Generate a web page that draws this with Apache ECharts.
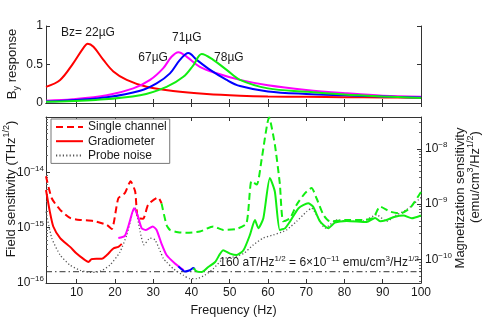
<!DOCTYPE html>
<html><head><meta charset="utf-8">
<script src="https://cdn.jsdelivr.net/npm/echarts@6/dist/echarts.min.js"></script>
<style>html,body{margin:0;padding:0;background:#fff}#c{width:485px;height:317px}</style>
</head><body><div id="c"></div>
<script>
// ---------- data ----------
const xTicks = [10, 20, 30, 40, 50, 60, 70, 80, 90, 100];
const responseTicks = [0, 0.5, 1];
const freqMin = 2, freqMax = 100;
const fieldMin = 1e-16, fieldMax = 1e-13;
const floorLevel = 1.6e-16;          // 160 aT/Hz^1/2
const fieldToMag = 6e-11 / 1.6e-16;  // emu/cm^3 per T

// top panel: By response vs frequency for four Bz values
const resp22 = [[2,0.21],[5.7,0.30],[9.1,0.515],[11.7,0.71],[12.9,0.77],[14.4,0.73],[17,0.56],[19.6,0.41],[23.1,0.30],[28.3,0.21],[35.2,0.156],[44,0.117],[52.7,0.095],[60,0.085],[70,0.08],[80,0.075],[90,0.072],[100,0.068]];
const resp67 = [[2,0.03],[9,0.048],[17.9,0.10],[24.8,0.19],[29.2,0.30],[32.6,0.45],[34.8,0.60],[36.6,0.66],[38.8,0.60],[42.2,0.47],[46.6,0.386],[52.7,0.30],[60,0.23],[70,0.17],[80.6,0.126],[90,0.095],[100,0.082]];
const resp71 = [[2,0.02],[10,0.04],[17.9,0.074],[26.6,0.16],[30.9,0.255],[34.4,0.385],[37,0.56],[39.2,0.65],[41.4,0.56],[44.9,0.43],[49.2,0.30],[52.7,0.22],[60,0.15],[70,0.117],[80,0.1],[90,0.085],[100,0.07]];
const resp78 = [[2,0.015],[15,0.04],[26.6,0.10],[33.5,0.21],[37.9,0.34],[40.5,0.49],[42.7,0.636],[45.7,0.56],[49.2,0.43],[52.7,0.30],[60,0.19],[70,0.147],[80,0.11],[90,0.085],[100,0.065]];

// bottom panel: field sensitivity (T/Hz^1/2)
const singleRed = [[2,8.5e-15],[3.5,3.4e-15],[5.7,2.1e-15],[8.3,1.5e-15],[10.9,1.38e-15],[14.4,1.32e-15],[17.9,1.12e-15],[19.2,9.5e-16],[20.9,3.4e-15],[22.6,4.2e-15],[24.1,6.9e-15],[25.3,4.5e-15],[26.0,1.48e-15],[27.4,1.45e-15],[28.7,2.6e-15],[31.3,3.5e-15],[32.2,2.75e-15]];
const singleGreen = [[32.2,2.75e-15],[33.5,1.12e-15],[34.4,9.1e-16],[36.5,8.3e-16],[38.8,8.1e-16],[42.2,8.5e-16],[45.7,1.05e-15],[48.3,9.1e-16],[51.8,9.5e-16],[54.4,1.2e-15],[55.7,6.9e-15],[57.1,6.0e-15],[58.4,1.8e-14],[60.3,9.8e-14],[61.8,3.2e-14],[63.1,6.3e-15],[64.0,1.3e-15],[65.8,1.48e-15],[67.5,2.6e-15],[69.7,4.2e-15],[71.4,5.2e-15],[72.7,3.4e-15],[74.5,1.7e-15],[76.2,1.3e-15],[80.6,1.38e-15],[84.9,1.38e-15],[87.5,1.5e-15],[89.3,2.4e-15],[91.9,1.95e-15],[94.5,1.8e-15],[97.1,2.25e-15],[100,4.4e-15]];
const gradRed = [[2,4.8e-15],[3,1.95e-15],[3.9,1.05e-15],[5.7,6.5e-16],[8.3,4.5e-16],[10,3.4e-16],[11.7,2.75e-16],[13.1,2.4e-16],[13.9,2.7e-16],[15.2,2.75e-16],[16.6,2.75e-16],[17.9,3.2e-16],[19.6,4.2e-16],[20.9,4.5e-16],[21.8,5.1e-16]];
const gradMagenta = [[20.9,6.5e-16],[22.6,7.1e-16],[23.9,1.3e-15],[25.0,2.25e-15],[25.9,1.7e-15],[27.0,9.8e-16],[28.1,9.1e-16],[29.9,1.05e-15],[30.9,9.1e-16],[32.2,5.1e-16],[33.5,3.2e-16],[35.7,2.25e-16],[37.5,1.8e-16],[38.0,1.7e-16]];
const gradBlue = [[36.6,2.0e-16],[38.3,1.62e-16],[39.6,1.7e-16],[40.5,1.86e-16],[40.9,1.78e-16]];
const gradGreen = [[40.5,1.86e-16],[41.4,1.62e-16],[42.7,1.58e-16],[44.4,1.95e-16],[46.2,2.4e-16],[48.3,3.9e-16],[50.1,3.4e-16],[51.8,3.2e-16],[53.6,3.9e-16],[55.3,7.4e-16],[56.6,1.38e-15],[57.5,9.8e-16],[58.8,1.48e-15],[60.5,7.9e-15],[61.8,4.5e-15],[63.1,9.1e-16],[64.5,9.8e-16],[65.8,1.3e-15],[68.0,2.25e-15],[70.5,2.75e-15],[71.8,2.4e-15],[73.6,1.3e-15],[75.8,9.8e-16],[77.5,1.23e-15],[80.6,1.32e-15],[85.8,1.26e-15],[88.0,1.5e-15],[89.3,1.3e-15],[91.0,1.38e-15],[93.2,1.58e-15],[95.4,1.66e-15],[97.6,1.48e-15],[100,1.66e-15]];
const probeNoise = [[2,1.95e-15],[3.5,6.5e-16],[5.7,3.2e-16],[8.3,2.1e-16],[10.9,1.7e-16],[13.5,1.55e-16],[16.1,1.62e-16],[18.7,2.1e-16],[21.3,3.6e-16],[23.1,7.4e-16],[24.7,1.95e-15],[25.3,2.25e-15],[26.6,8.5e-16],[27.6,4.9e-16],[29.2,6.5e-16],[30.5,6.0e-16],[32.7,2.75e-16],[33.5,2.4e-16],[35.3,1.8e-16],[37.9,1.38e-16],[39.6,1.2e-16],[41.4,1.2e-16],[43.5,1.38e-16],[45.7,1.8e-16],[48.3,2.75e-16],[51.0,2.95e-16],[53.6,3.4e-16],[56.2,4.9e-16],[58.8,6.5e-16],[61.4,7.4e-16],[64.0,8.5e-16],[64.9,9.1e-16],[67.5,1.3e-15],[70.1,1.95e-15],[71.4,2.25e-15],[73.2,1.48e-15],[74.9,9.8e-16],[78.0,1.38e-15],[81.4,1.3e-15],[84.9,1.32e-15],[88.4,1.7e-15],[91.0,1.3e-15],[93.6,1.7e-15],[96.2,2.1e-15],[100,3.5e-15]];
const floorLine = [[freqMin, floorLevel], [freqMax, floorLevel]];

// ---------- styling ----------
const FONT = 'Liberation Sans';
const TXT = '#1a1a1a';
const AX = '#333';
const RED = '#ff0000', MAG = '#ff00ff', BLUE = '#0000ff', GREEN = '#11ee11', GRAY = '#555';
const supStyle = {fontSize: 8, lineHeight: 8, verticalAlign: 'top', fontFamily: FONT, color: TXT};

function minorExps(lo, hi) {
  const out = [];
  for (let n = Math.floor(lo) - 1; n <= Math.ceil(hi); n++) {
    for (let k = 2; k <= 9; k++) {
      const e = n + Math.log10(k);
      if (e > lo && e < hi) out.push(e);
    }
  }
  return out;
}
const magMin = fieldMin * fieldToMag, magMax = fieldMax * fieldToMag;

function powLabel(v) {
  const e = Math.log10(v);
  const r = Math.round(e);
  if (Math.abs(e - r) > 0.01) return '';
  return '10{s|\u2212' + Math.abs(r) + '}';
}

const lineAxis = {show: true, lineStyle: {color: AX, width: 1}};
function frameAxis(extra) {
  return Object.assign({
    axisLine: lineAxis,
    axisTick: {show: true, inside: true, length: 4, lineStyle: {color: AX}},
    axisLabel: {show: false},
    splitLine: {show: false}
  }, extra);
}

const topLine = (name, data, color, label, coord) => ({
  name, type: 'line', xAxisIndex: 0, yAxisIndex: 0, data, symbol: 'none', smooth: 0.35,
  lineStyle: {color, width: 2}, itemStyle: {color}, silent: true,
  markPoint: {
    symbol: 'circle', symbolSize: 0, silent: true,
    label: {show: true, position: 'inside', formatter: label, fontFamily: FONT, fontSize: 12, color: TXT},
    data: [{coord}]
  }
});

const botLine = (name, data, color, type, width) => ({
  name, type: 'line', xAxisIndex: 2, yAxisIndex: 2, data, symbol: 'none', smooth: 0.2,
  lineStyle: {color, width, type}, itemStyle: {color}, silent: true
});

const option = {
  animation: false,
  backgroundColor: '#fff',
  textStyle: {fontFamily: FONT},
  grid: [
    {left: 46, right: 64, top: 26, height: 77, outerBoundsMode: 'none', containLabel: false},
    {left: 46, right: 64, top: 117, height: 166, outerBoundsMode: 'none', containLabel: false}
  ],
  xAxis: [
    frameAxis({gridIndex: 0, type: 'value', min: freqMin, max: freqMax, position: 'bottom',
      axisTick: {show: true, inside: true, length: 4, customValues: xTicks, lineStyle: {color: AX}}}),
    frameAxis({gridIndex: 0, type: 'value', min: freqMin, max: freqMax, position: 'top',
      axisTick: {show: true, inside: true, length: 4, customValues: xTicks, lineStyle: {color: AX}}}),
    frameAxis({gridIndex: 1, type: 'value', min: freqMin, max: freqMax, position: 'bottom',
      axisTick: {show: true, inside: true, length: 4, customValues: xTicks, lineStyle: {color: AX}},
      axisLabel: {show: true, customValues: xTicks, margin: 4, fontSize: 12, fontFamily: FONT, color: TXT},
      name: 'Frequency (Hz)', nameLocation: 'middle', nameGap: 20,
      nameTextStyle: {fontSize: 12.5, fontFamily: FONT, color: TXT}}),
    frameAxis({gridIndex: 1, type: 'value', min: freqMin, max: freqMax, position: 'top',
      axisTick: {show: true, inside: true, length: 4, customValues: xTicks, lineStyle: {color: AX}}})
  ],
  yAxis: [
    frameAxis({gridIndex: 0, type: 'value', min: 0, max: 1, interval: 0.5, position: 'left',
      axisTick: {show: true, inside: true, length: 4, customValues: responseTicks, lineStyle: {color: AX}},
      axisLabel: {show: true, customValues: responseTicks, margin: 3, fontSize: 12, fontFamily: FONT, color: TXT}}),
    frameAxis({gridIndex: 0, type: 'value', min: 0, max: 1, interval: 0.5, position: 'right',
      axisTick: {show: true, inside: true, length: 4, customValues: responseTicks, lineStyle: {color: AX}}}),
    frameAxis({gridIndex: 1, type: 'log', logBase: 10, min: fieldMin, max: fieldMax, position: 'left',
      axisLabel: {show: true, margin: 2, fontSize: 12, lineHeight: 16, fontFamily: FONT, color: TXT,
        formatter: v => (Math.round(Math.log10(v)) === -13 ? '' : powLabel(v)), rich: {s: supStyle}}}),
    {gridIndex: 1, type: 'value', min: Math.log10(fieldMin), max: Math.log10(fieldMax), position: 'left',
      axisLine: {show: false}, axisLabel: {show: false}, splitLine: {show: false},
      axisTick: {show: true, inside: true, length: 2, customValues: minorExps(Math.log10(fieldMin), Math.log10(fieldMax)), lineStyle: {color: '#666'}}},
    frameAxis({gridIndex: 1, type: 'log', logBase: 10, min: magMin, max: magMax, position: 'right',
      axisLabel: {show: true, margin: 4, fontSize: 12, lineHeight: 16, fontFamily: FONT, color: TXT,
        formatter: powLabel, rich: {s: supStyle}}}),
    {gridIndex: 1, type: 'value', min: Math.log10(magMin), max: Math.log10(magMax), position: 'right',
      axisLine: {show: false}, axisLabel: {show: false}, splitLine: {show: false},
      axisTick: {show: true, inside: true, length: 2, customValues: minorExps(Math.log10(magMin), Math.log10(magMax)), lineStyle: {color: '#666'}}}
  ],
  legend: {
    data: ['Single channel', 'Gradiometer', 'Probe noise'],
    orient: 'vertical', left: 51, top: 119,
    itemWidth: 27, itemHeight: 12, itemGap: 2.2,
    padding: [2, 3, 2, 4],
    borderColor: '#777', borderWidth: 1, backgroundColor: '#fff',
    itemStyle: {opacity: 0, borderWidth: 0},
    textStyle: {fontFamily: FONT, fontSize: 12, color: TXT},
    selectedMode: false
  },
  series: [
    topLine('Bz 22', resp22, RED, 'Bz= 22\u00b5G', [12.97, 0.909]),
    topLine('Bz 67', resp67, MAG, '67\u00b5G', [30.0, 0.584]),
    topLine('Bz 71', resp71, BLUE, '71\u00b5G', [38.8, 0.844]),
    topLine('Bz 78', resp78, GREEN, '78\u00b5G', [49.8, 0.584]),
    Object.assign(botLine('Noise floor', floorLine, '#333', [6, 3, 1.5, 3], 1), {
      smooth: false,
      endLabel: {show: true, align: 'right', verticalAlign: 'bottom', distance: 0, offset: [-2, -1],
        fontFamily: FONT, fontSize: 12, lineHeight: 16, color: TXT,
        formatter: '160 aT/Hz{s|1/2} = 6\u00d710{s|\u221211} emu/cm{s|3}/Hz{s|1/2}', rich: {s: supStyle}}
    }),
    botLine('Probe noise', probeNoise, GRAY, [1.2, 2.2], 1.3),
    botLine('Single channel', singleRed, RED, [7, 4], 2),
    botLine('Single channel (upper band)', singleGreen, GREEN, [7, 4], 2),
    botLine('Gradiometer', gradRed, RED, 'solid', 2),
    botLine('Gradiometer (magenta)', gradMagenta, MAG, 'solid', 2),
    botLine('Gradiometer (blue)', gradBlue, BLUE, 'solid', 2),
    botLine('Gradiometer (green)', gradGreen, GREEN, 'solid', 2)
  ],
  graphic: [
    {type: 'text', x: 12, y: 64, rotation: Math.PI / 2, silent: true,
      style: {text: 'B{b|y} response', fontSize: 13, fontFamily: FONT, fill: TXT, lineHeight: 18,
        align: 'center', verticalAlign: 'middle', textAlign: 'center', textVerticalAlign: 'middle',
        rich: {b: {fontSize: 9, lineHeight: 9, verticalAlign: 'bottom', fontFamily: FONT, fill: TXT}}}},
    {type: 'text', x: 11, y: 189, rotation: Math.PI / 2, silent: true,
      style: {text: 'Field sensitivity (THz{s|1/2})', fontSize: 13, fontFamily: FONT, fill: TXT, lineHeight: 18,
        align: 'center', verticalAlign: 'middle', textAlign: 'center', textVerticalAlign: 'middle',
        rich: {s: {fontSize: 9, lineHeight: 9, verticalAlign: 'top', fontFamily: FONT, fill: TXT}}}},
    {type: 'text', x: 460, y: 198, rotation: Math.PI / 2, silent: true,
      style: {text: 'Magnetization sensitivity', fontSize: 13, fontFamily: FONT, fill: TXT,
        align: 'center', verticalAlign: 'middle', textAlign: 'center', textVerticalAlign: 'middle'}},
    {type: 'text', x: 475, y: 177, rotation: Math.PI / 2, silent: true,
      style: {text: '(emu/cm{s|3}/Hz{s|1/2})', fontSize: 13, fontFamily: FONT, fill: TXT, lineHeight: 18,
        align: 'center', verticalAlign: 'middle', textAlign: 'center', textVerticalAlign: 'middle',
        rich: {s: {fontSize: 9, lineHeight: 9, verticalAlign: 'top', fontFamily: FONT, fill: TXT}}}}
  ]
};

const chart = echarts.init(document.getElementById('c'), null, {renderer: 'canvas'});
chart.setOption(option);
</script>
</body></html>
